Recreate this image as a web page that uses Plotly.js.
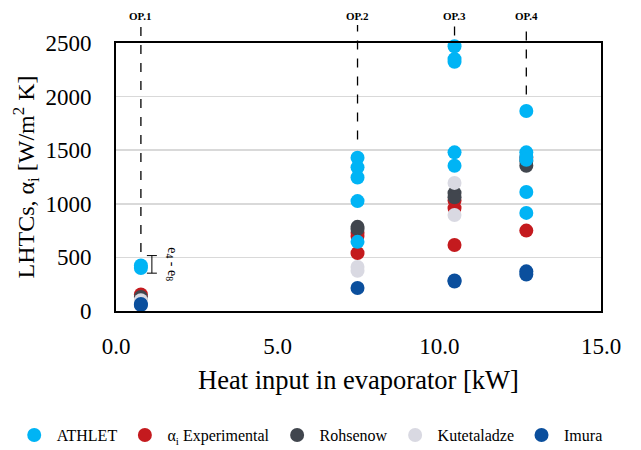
<!DOCTYPE html>
<html>
<head>
<meta charset="utf-8">
<script src="https://cdn.plot.ly/plotly-3.0.1.min.js"></script>
<style>html,body{margin:0;padding:0;background:#fff}#chart{width:641px;height:450px}</style>
</head>
<body>
<div id="chart"></div>
<script>
// Operating points (heat input, kW)
const opLabels = ["OP.1", "OP.2", "OP.3", "OP.4"];
const opX = [0.77, 7.47, 10.47, 12.69];

// Series values (x = heat input, y = LHTC in W/m2K)
const athletX = [0.77, 0.77, 7.47, 7.47, 7.47, 7.47, 7.47, 10.47, 10.47, 10.47, 10.47, 10.47, 12.69, 12.69, 12.69, 12.69, 12.69, 12.69];
const athletY = [425, 400, 1430, 1340, 1245, 1025, 645, 2470, 2350, 2325, 1480, 1355, 1865, 1480, 1440, 1410, 1110, 915];

const expX = [0.77, 7.47, 7.47, 7.47, 10.47, 10.47, 10.47, 12.69, 12.69];
const expY = [155, 730, 700, 540, 1030, 960, 615, 1430, 750];

const rohX = [0.77, 7.47, 7.47, 10.47, 10.47, 12.69, 12.69];
const rohY = [130, 785, 765, 1100, 1060, 1400, 1355];

const kutX = [0.77, 7.47, 7.47, 10.47, 10.47];
const kutY = [100, 410, 375, 1195, 895];

const imuX = [0.77, 0.77, 7.47, 10.47, 10.47, 12.69, 12.69];
const imuY = [65, 55, 215, 285, 275, 370, 340];

// Uncertainty bracket e4 - e8 next to OP.1
const errX = [1.11];
const errY = [435];
const errHalf = [82];

// Dashed guide lines: bottom end (data units) per OP
const guideBottom = [550, 1600, 2570, 2020];

const serif = "Liberation Serif, Times New Roman, serif";

function series(name, x, y, color, rank) {
  return {
    type: "scatter", mode: "markers", name: name, x: x, y: y,
    marker: {color: color, size: 14, line: {width: 0}},
    legendrank: rank, cliponaxis: false, hoverinfo: "skip"
  };
}

const data = [
  series("α<sub>i</sub> Experimental", expX, expY, "#C41A1E", 2),
  series("Rohsenow", rohX, rohY, "#41464E", 3),
  series("Kutetaladze", kutX, kutY, "#D9D9E2", 4),
  series("Imura", imuX, imuY, "#0B4F9D", 5),
  series("ATHLET", athletX, athletY, "#00B4F5", 1),
  {
    type: "scatter", mode: "markers", x: errX, y: errY, showlegend: false,
    marker: {opacity: 0, size: 1},
    error_y: {type: "data", array: errHalf, symmetric: true, color: "#000", thickness: 1, width: 5},
    hoverinfo: "skip"
  }
];

const shapes = opX.map((x, i) => ({
  type: "line", xref: "x", yref: "paper",
  x0: x, x1: x, y0: guideBottom[i] / 2500, y1: 1.067,
  line: {color: "#000", width: 1.3, dash: "dash"}, layer: "above"
}));

const annotations = opX.map((x, i) => ({
  xref: "x", yref: "paper", x: x, y: 1.10, yanchor: "middle", text: "<b>" + opLabels[i] + "</b>",
  showarrow: false, font: {family: serif, size: 11, color: "#000"}
}));
annotations.push({
  xref: "x", yref: "y", x: 1.72, y: 440, text: "e<sub>4</sub> - e<sub>8</sub>",
  textangle: 90, showarrow: false, font: {family: serif, size: 14, color: "#000"}
});

const layout = {
  width: 641, height: 450,
  margin: {l: 116, r: 40, t: 43, b: 139, autoexpand: false},
  paper_bgcolor: "#fff", plot_bgcolor: "#fff",
  font: {family: serif, color: "#000"},
  showlegend: true,
  legend: {
    orientation: "h", x: -0.215, xanchor: "left", y: -0.463, yanchor: "middle",
    font: {family: serif, size: 16, color: "#000"}, itemwidth: 35,
    traceorder: "normal"
  },
  xaxis: {
    range: [0, 15], dtick: 5, tickformat: ".1f", showgrid: false, zeroline: false,
    showline: true, mirror: true, linecolor: "#000", linewidth: 2, ticks: "",
    ticklabelstandoff: 13,
    tickfont: {family: serif, size: 23, color: "#000"},
    title: {text: "Heat input in evaporator [kW]", font: {family: serif, size: 26.5, color: "#000"}, standoff: 13}
  },
  yaxis: {
    range: [0, 2500], dtick: 500, showgrid: true, gridcolor: "#D9D9D9", gridwidth: 1.5, zeroline: false,
    showline: true, mirror: true, linecolor: "#000", linewidth: 2, ticks: "",
    ticklabelstandoff: 18,
    tickfont: {family: serif, size: 23, color: "#000"},
    title: {text: "LHTCs, α<sub>i</sub> [W/m<sup>2</sup> K]", font: {family: serif, size: 24, color: "#000"}, standoff: 4}
  },
  shapes: shapes,
  annotations: annotations
};

Plotly.newPlot("chart", data, layout, {displayModeBar: false, staticPlot: true});
</script>
</body>
</html>
